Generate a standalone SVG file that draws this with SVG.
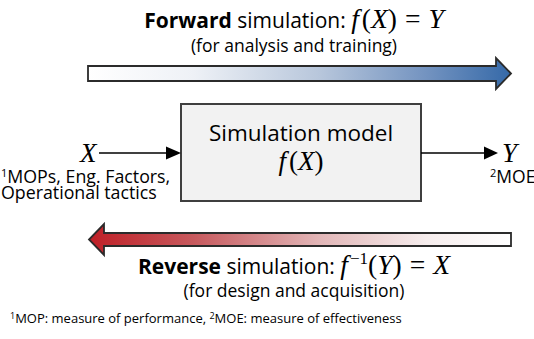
<svg xmlns="http://www.w3.org/2000/svg" width="534" height="339" viewBox="0 0 534 339">
<style>
.sans{font-family:"Open Sans","Liberation Sans",sans-serif;fill:#000}
.math{font-family:"Liberation Serif","DejaVu Serif",serif;font-style:italic;fill:#000}
.up{font-style:normal}
.big{stroke:#2b2b2b;stroke-width:1.8}
.conn{stroke:#000;stroke-width:1.5;fill:none}
.head{fill:#000}
</style>
<defs>
<linearGradient id="gf" gradientUnits="userSpaceOnUse" x1="88" y1="0" x2="511" y2="0">
<stop offset="0" stop-color="#ffffff"/>
<stop offset="0.25" stop-color="#eef1f6"/>
<stop offset="0.55" stop-color="#b7c6db"/>
<stop offset="0.8" stop-color="#7393c0"/>
<stop offset="1" stop-color="#3569a8"/>
</linearGradient>
<linearGradient id="gr" gradientUnits="userSpaceOnUse" x1="89" y1="0" x2="511" y2="0">
<stop offset="0" stop-color="#bf1f26"/>
<stop offset="0.25" stop-color="#c75a5e"/>
<stop offset="0.55" stop-color="#e2b7b8"/>
<stop offset="0.8" stop-color="#f6eded"/>
<stop offset="1" stop-color="#ffffff"/>
</linearGradient>
</defs>

<g id="forward-arrow">
<path class="big" fill="url(#gf)" d="M88,66 H496 V58 L511,73.5 L496,89 V81 H88 Z"/>
<text class="sans" x="294" y="28" font-size="21" text-anchor="middle"><tspan font-weight="bold">Forward</tspan> simulation: <tspan class="math" font-size="27.5">f</tspan><tspan class="math up" font-size="27.5" dx="3">(</tspan><tspan class="math" font-size="27.5">X</tspan><tspan class="math up" font-size="27.5">)</tspan><tspan class="math up" font-size="27.5" dx="8">=</tspan><tspan class="math" font-size="27.5" dx="8">Y</tspan></text>
<text class="sans" x="294" y="52" font-size="17.5" text-anchor="middle">(for analysis and training)</text>
</g>

<g id="reverse-arrow">
<path class="big" fill="url(#gr)" d="M511,233 H104 V224 L89,239.5 L104,255 V246 H511 Z"/>
<text class="sans" x="294" y="274" font-size="21" text-anchor="middle"><tspan font-weight="bold">Reverse</tspan> simulation: <tspan class="math" font-size="27.5">f</tspan><tspan class="math up" font-size="17" dx="2" dy="-10">−1</tspan><tspan class="math up" font-size="27.5" dy="10">(</tspan><tspan class="math" font-size="27.5">Y</tspan><tspan class="math up" font-size="27.5">)</tspan><tspan class="math up" font-size="27.5" dx="8">=</tspan><tspan class="math" font-size="27.5" dx="8">X</tspan></text>
<text class="sans" x="294" y="297" font-size="17.5" text-anchor="middle">(for design and acquisition)</text>
</g>

<g id="model">
<rect x="181" y="104" width="240" height="97" fill="#f2f2f2" stroke="#3f3f3f" stroke-width="2"/>
<text class="sans" x="301" y="141" font-size="22.5" text-anchor="middle">Simulation model</text>
<text class="math" x="301" y="170" font-size="27" text-anchor="middle">f<tspan class="up" dx="3">(</tspan>X<tspan class="up">)</tspan></text>
</g>

<g id="input">
<text class="math" x="80" y="162" font-size="27">X</text>
<text class="sans" x="1" y="183" font-size="17.8"><tspan font-size="11" dy="-6">1</tspan><tspan dy="6">MOPs, Eng. Factors,</tspan></text>
<text class="sans" x="1" y="199" font-size="17.8">Operational tactics</text>
</g>

<g id="output">
<text class="math" x="502" y="162" font-size="27">Y</text>
<text class="sans" x="490" y="183" font-size="17.5"><tspan font-size="11" dy="-6">2</tspan><tspan dy="6">MOE</tspan></text>
</g>

<g id="connectors">
<line class="conn" x1="99" y1="153" x2="168" y2="153"/>
<polygon class="head" points="166,146.5 181,153 166,159.5"/>
<line class="conn" x1="421" y1="153" x2="486" y2="153"/>
<polygon class="head" points="484,146.5 498,153 484,159.5"/>
</g>

<text class="sans" x="10" y="323" font-size="13"><tspan font-size="9" dy="-4">1</tspan><tspan dy="4">MOP: measure of performance, </tspan><tspan font-size="9" dy="-4">2</tspan><tspan dy="4">MOE: measure of effectiveness</tspan></text>
</svg>
